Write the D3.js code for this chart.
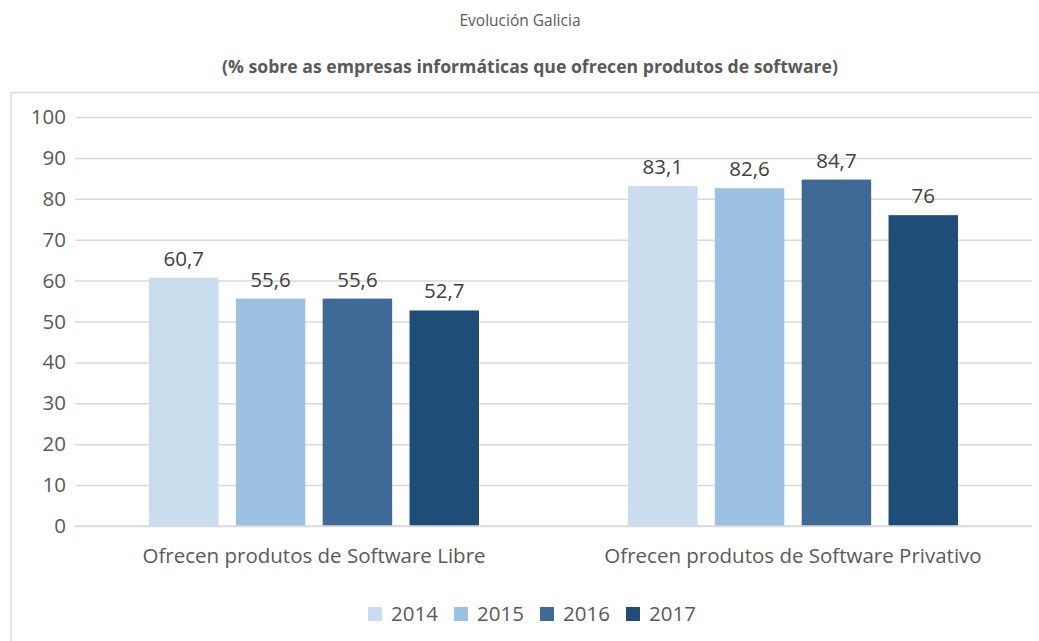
<!DOCTYPE html>
<html><head><meta charset="utf-8">
<script src="https://cdn.jsdelivr.net/npm/d3@7"></script>
<style>body{margin:0;background:#fff}svg{display:block}</style>
</head><body>
<script>
const categories = ["Ofrecen produtos de Software Libre", "Ofrecen produtos de Software Privativo"];
const years = ["2014", "2015", "2016", "2017"];
const values2014 = [60.7, 83.1];
const values2015 = [55.6, 82.6];
const values2016 = [55.6, 84.7];
const values2017 = [52.7, 76];
const colors = ["#c9ddee", "#9dc1e2", "#3e6a95", "#1f4d78"];
const yTicks = [0,10,20,30,40,50,60,70,80,90,100];
const title = "Evolución Galicia";
const subtitle = "(% sobre as empresas informáticas que ofrecen produtos de software)";

const series = [values2014, values2015, values2016, values2017];
const W = 1039, H = 641;
const svg = d3.select("body").append("svg").attr("width", W).attr("height", H);
const font = "'Open Sans', sans-serif";
const txt = "#595959";
const fs = 20.5;

// frame
svg.append("rect").attr("x", 11).attr("y", 92.5).attr("width", 1040).attr("height", 600)
  .attr("fill", "none").attr("stroke", "#d9d9d9").attr("stroke-width", 1.5);

svg.append("text").attr("x", 520).attr("y", 26).attr("text-anchor", "middle")
  .attr("font-family", font).attr("font-size", 16).attr("fill", txt)
  .attr("textLength", 121).attr("lengthAdjust", "spacingAndGlyphs").text(title);
svg.append("text").attr("x", 530).attr("y", 73).attr("text-anchor", "middle")
  .attr("font-family", font).attr("font-size", 17).attr("font-weight", "bold").attr("fill", txt)
  .attr("textLength", 616).attr("lengthAdjust", "spacingAndGlyphs").text(subtitle);

const x0 = d3.scaleBand().domain(categories).range([74.5, 1032.5]).paddingInner(0).paddingOuter(0);
const x1 = d3.scaleBand().domain(years).range([74.5 + 74.5, 74.5 + 479 - 74.5]).paddingInner(0.2).paddingOuter(0);
const y = d3.scaleLinear().domain([0, 100]).range([526, 117]);

// gridlines via axis
const yAxis = d3.axisLeft(y).tickValues(yTicks).tickSize(-(1032 - 75)).tickPadding(10);
const gy = svg.append("g").attr("transform", "translate(75,0)").call(yAxis);
gy.select(".domain").remove();
gy.selectAll(".tick line").attr("stroke", "#d9d9d9").attr("stroke-width", 1.5);
gy.selectAll(".tick text").attr("font-family", font).attr("font-size", fs).attr("fill", txt)
  .attr("x", -9);

// bars
const groups = svg.append("g").selectAll("g").data(categories).join("g")
  .attr("transform", d => `translate(${x0(d) - 74.5},0)`);
groups.each(function(cat, ci) {
  const g = d3.select(this);
  years.forEach((yr, si) => {
    const v = series[si][ci];
    g.append("rect").attr("x", x1(yr)).attr("width", x1.bandwidth())
      .attr("y", y(v)).attr("height", y(0) - y(v)).attr("fill", colors[si]);
    g.append("text").attr("x", x1(yr) + x1.bandwidth() / 2).attr("y", y(v) - 12)
      .attr("text-anchor", "middle").attr("font-family", font).attr("font-size", fs)
      .attr("fill", "#404040").text(String(v).replace(".", ","));
  });
});

// baseline
svg.append("line").attr("x1", 75).attr("x2", 1032).attr("y1", y(0)).attr("y2", y(0))
  .attr("stroke", "#d9d9d9").attr("stroke-width", 1.5);

// category axis labels
const xAxis = d3.axisBottom(x0).tickSize(0).tickPadding(22);
const gx = svg.append("g").attr("transform", `translate(0,${y(0)})`).call(xAxis);
gx.select(".domain").remove();
gx.selectAll(".tick text").attr("font-family", font).attr("font-size", fs).attr("fill", txt);

// legend
const legX = [368, 454, 540, 626];
const leg = svg.append("g");
years.forEach((yr, i) => {
  leg.append("rect").attr("x", legX[i]).attr("y", 607).attr("width", 14).attr("height", 14).attr("fill", colors[i]);
  leg.append("text").attr("x", legX[i] + 23).attr("y", 621).attr("font-family", font)
    .attr("font-size", fs).attr("fill", txt).text(yr);
});
</script>
</body></html>
